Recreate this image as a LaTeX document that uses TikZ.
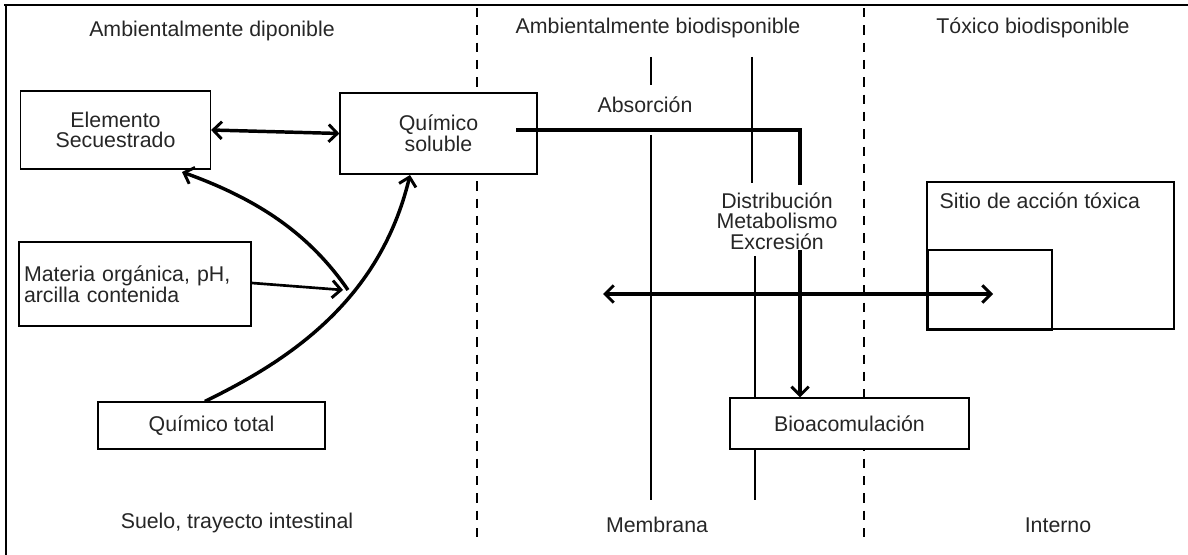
\documentclass[tikz,border=0pt]{standalone}
\usepackage{fontspec}
\setmainfont{Liberation Sans}
\usetikzlibrary{arrows.meta}
\begin{document}
\begin{tikzpicture}[x=0.75pt,y=-0.75pt,
  >={Straight Barb[length=6.5pt,width=13pt,line width=2.2pt]},
  every node/.style={font=\fontsize{16}{15.5}\selectfont, text=black!85},
  box/.style={draw, line width=0.9pt, fill=white, inner sep=0pt, align=center},
  lbl/.style={inner sep=1pt, align=center},
  frame/.style={line width=2.2pt},
  sep/.style={line width=0.9pt, dash pattern=on 7pt off 6pt},
  memb/.style={line width=0.9pt},
  big/.style={line width=2.6pt}
]
\useasboundingbox (0,0) rectangle (1188,555);
% frame
\draw[frame] (4,5) -- (1188,5);
\draw[frame] (6,5) -- (6,555);
% section separators
\draw[sep] (477,8) -- (477,542);
\draw[sep] (864,8) -- (864,542);
% membranes
\draw[memb] (651,57) -- (651,85);
\draw[memb] (651,135) -- (651,500);
\draw[memb] (752,57) -- (752,183);
\draw[memb] (755,256) -- (755,500);
% headings
\node[lbl] (h1) at (212,31) {Ambientalmente diponible};
\node[lbl] (h2) at (658,28) {Ambientalmente biodisponible};
\node[lbl] (h3) at (1033,28) {Tóxico biodisponible};
\node[lbl] (f1) at (237,523) {Suelo, trayecto intestinal};
\node[lbl] (f2) at (657,525) {Membrana};
\node[lbl] (f3) at (1058,525) {Interno};
\node[lbl] (abs) at (645,105) {Absorción};
% boxes
\node[box, minimum width=190*0.75pt, minimum height=78*0.75pt] (es) at (115.5,130) {Elemento\\Secuestrado};
\node[box, minimum width=197*0.75pt, minimum height=81*0.75pt] (qs) at (438.5,133.5) {Químico\\soluble};
\node[box, minimum width=232*0.75pt, minimum height=84*0.75pt, align=left, text width=222*0.75pt] (mo) at (135,284) {Materia orgánica, pH,\\arcilla contenida};
\node[box, minimum width=227*0.75pt, minimum height=47*0.75pt] (qt) at (211.5,425.5) {Químico total};
% toxic site boxes
\node[draw, line width=0.9pt, minimum width=247*0.75pt, minimum height=147*0.75pt, inner sep=0pt] (st) at (1050.5,255.5) {};
\node[lbl, anchor=north west] (stl) at (938,191) {Sitio de acción tóxica};
\node[draw, line width=0.9pt, minimum width=124*0.75pt, minimum height=79*0.75pt, inner sep=0pt] (sb) at (990,289.5) {};
\draw[line width=1.8pt] (sb.north west) -- (sb.south west) -- (sb.south east);
% horizontal double arrow
\coordinate (hl) at (603,294);
\coordinate (hr) at (993,294);
\draw[big, <->] (hl) -- (hr);
% absorption path
\coordinate (a0) at (518,130);
\coordinate (c1) at (800,130);
\node[box, minimum width=239*0.75pt, minimum height=51*0.75pt] (bio) at (849.5,423.5) {Bioacomulación};
\draw[big, line cap=rect] (a0) -- (c1) -- (800,183);
\draw[big, ->] (800,250) -- (bio.north -| c1);
\node[lbl, fill=white, inner sep=0pt] (dme) at (777,221) {Distribución\\Metabolismo\\Excresión};
% double arrow between boxes
\draw[big, <->] (es.east) -- (qs.west);
% curved arrows
\coordinate (j) at (348,290);
\coordinate (m1) at (252,283);
\draw[big, ->] ([xshift=-5pt]qt.north) .. controls (290,360) and (380,300) .. (410,175);
\draw[big, ->] (j) .. controls (310,235) and (260,200) .. (182,172);
\draw[line width=2pt, ->] (m1) -- (343,290);
\end{tikzpicture}
\end{document}
